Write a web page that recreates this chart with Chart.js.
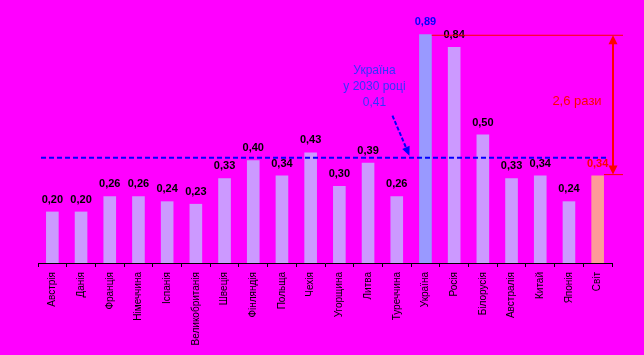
<!DOCTYPE html>
<html>
<head>
<meta charset="utf-8">
<script src="https://cdn.jsdelivr.net/npm/chart.js@4"></script>
<style>
  html, body { margin: 0; padding: 0; background: #FF00FF; }
  #wrap { width: 644px; height: 355px; position: relative; }
</style>
</head>
<body>
<div id="wrap"><canvas id="c" width="644" height="355"></canvas></div>
<script>
const categories = ["Австрія","Данія","Франція","Німеччина","Іспанія","Великобританія","Швеція","Фінляндія","Польща","Чехія","Угорщина","Литва","Туреччина","Україна","Росія","Білорусія","Австралія","Китай","Японія","Світ"];
const values = [0.20,0.20,0.26,0.26,0.24,0.23,0.33,0.40,0.34,0.43,0.30,0.39,0.26,0.89,0.84,0.50,0.33,0.34,0.24,0.34];
const target2030 = 0.41;
const targetText = ["Україна", "у 2030 році", "0,41"];
const ratioText = "2,6 рази";

const fmt = v => v.toFixed(2).replace('.', ',');
const barColors = categories.map(c => c === "Україна" ? "#9999FF" : (c === "Світ" ? "#FF9999" : "#CC99FF"));
const labelColors = categories.map(c => c === "Україна" ? "#0000FF" : (c === "Світ" ? "#FF0000" : "#000000"));

const bgPlugin = {
  id: 'bg',
  beforeDraw(chart) {
    const ctx = chart.ctx;
    ctx.save();
    ctx.fillStyle = '#FF00FF';
    ctx.fillRect(0, 0, chart.width, chart.height);
    ctx.restore();
  }
};

function arrowHead(ctx, x1, y1, x2, y2, len, half, color) {
  const a = Math.atan2(y2 - y1, x2 - x1);
  ctx.save();
  ctx.fillStyle = color;
  ctx.beginPath();
  ctx.moveTo(x2, y2);
  ctx.lineTo(x2 - len * Math.cos(a) + half * Math.sin(a), y2 - len * Math.sin(a) - half * Math.cos(a));
  ctx.lineTo(x2 - len * Math.cos(a) - half * Math.sin(a), y2 - len * Math.sin(a) + half * Math.cos(a));
  ctx.closePath();
  ctx.fill();
  ctx.restore();
}

const annPlugin = {
  id: 'ann',
  afterDatasetsDraw(chart) {
    const ctx = chart.ctx;
    const xs = chart.scales.x, ys = chart.scales.y;
    const meta = chart.getDatasetMeta(0);
    const area = chart.chartArea;

    // dashed target line
    const yT = ys.getPixelForValue(target2030);
    ctx.save();
    ctx.strokeStyle = '#0000FF';
    ctx.lineWidth = 2;
    ctx.setLineDash([5, 3]);
    ctx.beginPath();
    ctx.moveTo(area.left + 3, yT);
    ctx.lineTo(area.right - 4, yT);
    ctx.stroke();
    ctx.restore();

    // value labels
    ctx.save();
    ctx.font = 'bold 11px "Liberation Sans", Arial, sans-serif';
    ctx.textAlign = 'center';
    ctx.textBaseline = 'alphabetic';
    meta.data.forEach((bar, i) => {
      ctx.fillStyle = labelColors[i];
      ctx.fillText(fmt(values[i]), bar.x, bar.y - 9);
    });
    ctx.restore();

    // blue annotation text + dashed arrow
    const iUa = categories.indexOf("Україна");
    const uaBar = meta.data[iUa];
    const tx = uaBar.x - 51;
    ctx.save();
    ctx.font = '12px "Liberation Sans", Arial, sans-serif';
    ctx.fillStyle = '#3333FF';
    ctx.textAlign = 'center';
    ctx.textBaseline = 'middle';
    targetText.forEach((t, k) => ctx.fillText(t, tx, 71 + k * 16));
    ctx.restore();

    const ax2 = uaBar.x - 16, ay2 = yT - 2;
    const ax1 = ax2 - 17, ay1 = ay2 - 40;
    ctx.save();
    ctx.strokeStyle = '#0000FF';
    ctx.lineWidth = 2;
    ctx.setLineDash([4, 2]);
    ctx.beginPath();
    ctx.moveTo(ax1, ay1);
    ctx.lineTo(ax2 - 3, ay2 - 7);
    ctx.stroke();
    ctx.restore();
    arrowHead(ctx, ax1, ay1, ax2, ay2, 9, 4, '#0000FF');

    // red ratio arrow
    const iW = categories.indexOf("Світ");
    const wBar = meta.data[iW];
    const yTop = ys.getPixelForValue(values[iUa]) + 1;
    const yBot = ys.getPixelForValue(values[iW]) - 1;
    const xr = area.right + 1;
    ctx.save();
    ctx.strokeStyle = '#FF0000';
    ctx.lineWidth = 1;
    ctx.beginPath();
    ctx.moveTo(uaBar.x + uaBar.width / 2, yTop);
    ctx.lineTo(xr + 10, yTop);
    ctx.moveTo(wBar.x + wBar.width / 2, yBot);
    ctx.lineTo(xr + 10, yBot);
    ctx.stroke();
    ctx.lineWidth = 2;
    ctx.beginPath();
    ctx.moveTo(xr, yTop + 8);
    ctx.lineTo(xr, yBot - 8);
    ctx.stroke();
    ctx.restore();
    arrowHead(ctx, xr, yBot, xr, yTop, 9, 4.5, '#FF0000');
    arrowHead(ctx, xr, yTop, xr, yBot, 9, 4.5, '#FF0000');

    ctx.save();
    ctx.font = '13px "Liberation Sans", Arial, sans-serif';
    ctx.fillStyle = '#FF0000';
    ctx.textAlign = 'center';
    ctx.textBaseline = 'middle';
    ctx.fillText(ratioText, xr - 36, 101);
    ctx.restore();
  }
};

new Chart(document.getElementById('c'), {
  type: 'bar',
  data: {
    labels: categories,
    datasets: [{
      data: values,
      backgroundColor: barColors,
      borderWidth: 0,
      categoryPercentage: 1,
      barPercentage: 0.44
    }]
  },
  options: {
    responsive: false,
    animation: false,
    devicePixelRatio: 1,
    layout: { padding: { left: 38, right: 32, top: 6, bottom: 0 } },
    plugins: { legend: { display: false }, tooltip: { enabled: false } },
    scales: {
      x: {
        grid: { drawOnChartArea: false, drawTicks: true, tickLength: 4, color: '#000', offset: true },
        border: { display: true, color: '#000', width: 1 },
        ticks: {
          minRotation: 90, maxRotation: 90, autoSkip: false, padding: 5,
          color: '#000',
          font: { family: '"Liberation Sans", Arial, sans-serif', size: 10 }
        },
        afterFit(scale) { scale.height = 92; }
      },
      y: {
        display: false,
        min: 0,
        max: 1.0
      }
    }
  },
  plugins: [bgPlugin, annPlugin]
});
</script>
</body>
</html>
